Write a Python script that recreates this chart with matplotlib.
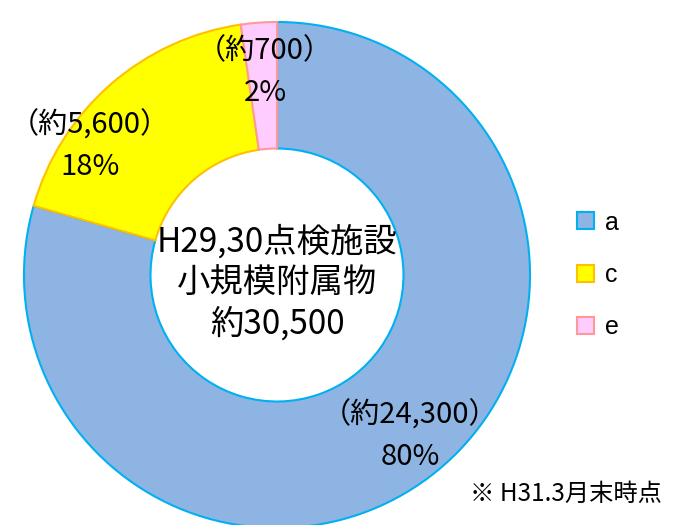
import matplotlib
matplotlib.use("Agg")
import matplotlib.pyplot as plt
from matplotlib.patches import Patch

plt.rcParams['font.family'] = ['Noto Sans CJK JP', 'DejaVu Sans']

categories = ['a', 'c', 'e']
values = [24300, 5600, 700]
percents = ['80%', '18%', '2%']
amount_labels = ['（約24,300）', '（約5,600）', '（約700）']
face_colors = ['#8EB4E3', '#FFFF00', '#FFCCFF']
edge_colors = ['#00B0F0', '#FFC000', '#FF9999']
center_text = 'H29,30点検施設\n小規模附属物\n約30,500'
footnote = '※ H31.3月末時点'

fig = plt.figure(figsize=(6.75, 5.25), dpi=100)
ax = fig.add_axes([24/675, -3/525, 506/675, 506/525])
wedges, _ = ax.pie(values, startangle=90, counterclock=False, radius=1.0,
                   colors=face_colors,
                   wedgeprops=dict(width=0.5, linewidth=1.5))
for w, ec in zip(wedges, edge_colors):
    w.set_edgecolor(ec)
ax.set_xlim(-1, 1)
ax.set_ylim(-1, 1)
ax.set_aspect('equal')
ax.axis('off')

# label positions (pixel coords of label centers)
label_pos = [(410, 436), (90, 146), (265, 72)]
for (px, py), amt, pct in zip(label_pos, amount_labels, percents):
    fig.text(px/675, 1 - py/525, amt + '\n' + pct, ha='center', va='center',
             fontsize=21, linespacing=1.5)

fig.text(277/675, 1 - 283/525, center_text, ha='center', va='center',
         fontsize=24, linespacing=1.22)

handles = [Patch(facecolor=fc, edgecolor=ec, linewidth=1.5) for fc, ec in zip(face_colors, edge_colors)]
leg = fig.legend(handles, categories, loc='center left', bbox_to_anchor=(554/675, 1 - 275/525),
                 frameon=False, handlelength=0.68, handleheight=0.68,
                 labelspacing=1.14, handletextpad=0.45,
                 prop={'family': ['Liberation Sans', 'DejaVu Sans'], 'size': 18})

fig.text(662/675, 1 - 494/525, footnote, ha='right', va='center', fontsize=17.5)

fig.savefig('out.png', dpi=100)
